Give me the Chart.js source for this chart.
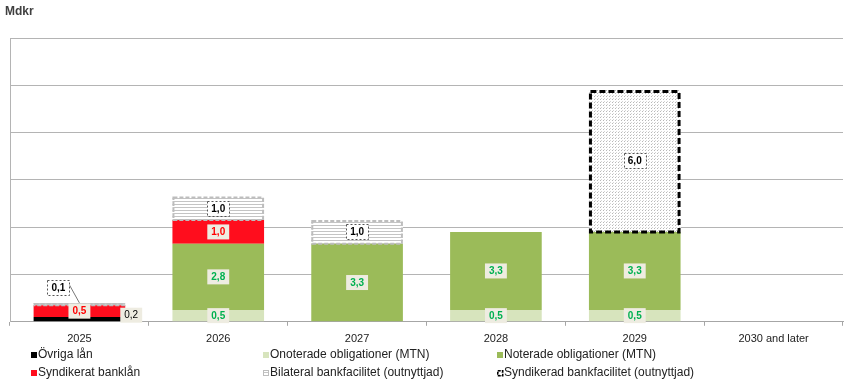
<!DOCTYPE html>
<html>
<head>
<meta charset="utf-8">
<script src="https://cdn.jsdelivr.net/npm/chart.js@4/dist/chart.umd.min.js"></script>
<style>
html, body { margin: 0; padding: 0; background: #fff; }
#wrap { position: relative; width: 850px; height: 389px; }
</style>
</head>
<body>
<div id="wrap"><canvas id="chart" width="850" height="389"></canvas></div>
<script>
// data (Mdkr) per maturity year
const years = ['2025', '2026', '2027', '2028', '2029', '2030 and later'];
const ovrigaLan = [0.2, 0, 0, 0, 0, 0];
const onoteradeMtn = [0, 0.5, 0, 0.5, 0.5, 0];
const noteradeMtn = [0, 2.8, 3.3, 3.3, 3.3, 0];
const syndBanklan = [0.5, 1.0, 0, 0, 0, 0];
const bilateralFac = [0.1, 1.0, 1.0, 0, 0, 0];
const syndFac = [0, 0, 0, 0, 6.0, 0];
const yMax = 12;
const yStep = 2;

const FONT = "'Liberation Sans', Arial, sans-serif";

// fill patterns for the unused facilities
function hatch() {
    const c = document.createElement('canvas');
    c.width = 6; c.height = 3;
    const g = c.getContext('2d');
    g.fillStyle = '#ffffff'; g.fillRect(0, 0, 6, 3);
    g.fillStyle = '#c4c4c4'; g.fillRect(0, 0, 6, 1);
    return g.createPattern(c, 'repeat');
}
function dots() {
    const c = document.createElement('canvas');
    c.width = 3; c.height = 3;
    const g = c.getContext('2d');
    g.fillStyle = '#ffffff'; g.fillRect(0, 0, 3, 3);
    g.fillStyle = '#b8b8b8'; g.fillRect(0, 0, 1, 1);
    g.fillStyle = '#d6d6d6'; g.fillRect(1, 2, 1, 1);
    return g.createPattern(c, 'repeat');
}
const hatchFill = hatch();
const dotFill = dots();

const fmt = v => v.toFixed(1).replace('.', ',');

// label style per dataset
const labelStyle = [
    { color: '#000', bg: '#eeece1', bold: false },
    { color: '#00b050', bg: '#eeece1', bold: true },
    { color: '#00b050', bg: '#eeece1', bold: true },
    { color: '#ff0000', bg: '#eeece1', bold: true },
    { color: '#000', bg: '#fff', bold: true, dashed: '#555' },
    { color: '#000', bg: '#fff', bold: true, dashed: '#555' }
];

function labelBox(ctx, text, x, y, st) {
    ctx.font = (st.bold ? 'bold ' : '') + '10px ' + FONT;
    const w = ctx.measureText(text).width + 8;
    const h = 15;
    ctx.fillStyle = st.bg;
    ctx.fillRect(x - w / 2, y - h / 2, w, h);
    if (st.dashed) {
        ctx.save();
        ctx.strokeStyle = st.dashed;
        ctx.lineWidth = 1;
        ctx.setLineDash([2, 2]);
        ctx.strokeRect(Math.round(x - w / 2) + 0.5, Math.round(y - h / 2) + 0.5, Math.round(w), h);
        ctx.restore();
    }
    ctx.fillStyle = st.color;
    ctx.textAlign = 'center';
    ctx.textBaseline = 'middle';
    ctx.fillText(text, x, y + 0.5);
}

const extras = {
    id: 'extras',
    afterDatasetsDraw(chart) {
        const ctx = chart.ctx;
        // dashed outlines of the facility bars
        [[4, '#bdbdbd', 2, [4, 2]], [5, '#000', 3, [6, 3]]].forEach(([di, col, lw, dash]) => {
            chart.getDatasetMeta(di).data.forEach((el, i) => {
                if (!chart.data.datasets[di].data[i]) return;
                const l = el.x - el.width / 2, t = el.y;
                ctx.save();
                ctx.strokeStyle = col;
                ctx.lineWidth = lw;
                ctx.setLineDash(dash);
                ctx.strokeRect(l + lw / 2, t + lw / 2, el.width - lw, el.base - t - lw / 2);
                ctx.restore();
            });
        });
        // value labels
        chart.data.datasets.forEach((ds, di) => {
            chart.getDatasetMeta(di).data.forEach((el, i) => {
                const v = ds.data[i];
                if (!v) return;
                let x = el.x, y = (el.y + el.base) / 2;
                if (di === 0) {
                    x = el.x + el.width / 2 + 6;
                    y = y - 4;
                } else if (di === 4 && v < 0.3) {
                    x = el.x - 21; y = el.y - 15;
                    ctx.save();
                    ctx.strokeStyle = '#777';
                    ctx.lineWidth = 1;
                    ctx.beginPath();
                    ctx.moveTo(x + 11, y - 3);
                    ctx.lineTo(el.x, el.y);
                    ctx.stroke();
                    ctx.restore();
                }
                labelBox(ctx, fmt(v), x, y, labelStyle[di]);
            });
        });
    },
    afterDraw(chart) {
        const ctx = chart.ctx;
        ctx.save();
        ctx.fillStyle = '#404040';
        ctx.font = 'bold 12px ' + FONT;
        ctx.textBaseline = 'top';
        ctx.textAlign = 'left';
        ctx.fillText('Mdkr', 5, 6);

        // legend, three columns x two rows
        const items = [
            [31, 355, 0], [263, 355, 1], [497, 355, 2],
            [31, 373, 3], [263, 373, 4], [497, 373, 5]
        ];
        ctx.font = '12px ' + FONT;
        ctx.textBaseline = 'middle';
        items.forEach(([x, y, di]) => {
            const ds = chart.data.datasets[di];
            ctx.fillStyle = ds.backgroundColor;
            ctx.fillRect(x, y - 3, 6, 6);
            if (di === 4) {
                ctx.strokeStyle = '#bdbdbd';
                ctx.lineWidth = 1;
                ctx.strokeRect(x + 0.5, y - 2.5, 5, 5);
            }
            if (di === 5) {
                ctx.strokeStyle = '#000';
                ctx.lineWidth = 1.5;
                ctx.setLineDash([3, 1]);
                ctx.strokeRect(x + 0.75, y - 2.25, 5, 5);
                ctx.setLineDash([]);
            }
            ctx.fillStyle = '#222';
            ctx.fillText(ds.label, x + 7, y);
        });
        ctx.restore();
    }
};

new Chart(document.getElementById('chart'), {
    type: 'bar',
    data: {
        labels: years,
        datasets: [
            { label: 'Övriga lån', data: ovrigaLan, backgroundColor: '#000000' },
            { label: 'Onoterade obligationer (MTN)', data: onoteradeMtn, backgroundColor: '#d7e4bd' },
            { label: 'Noterade obligationer (MTN)', data: noteradeMtn, backgroundColor: '#9bbb59' },
            { label: 'Syndikerat banklån', data: syndBanklan, backgroundColor: '#ff0d1d' },
            { label: 'Bilateral bankfacilitet (outnyttjad)', data: bilateralFac, backgroundColor: hatchFill },
            { label: 'Syndikerad bankfacilitet (outnyttjad)', data: syndFac, backgroundColor: dotFill }
        ]
    },
    options: {
        responsive: false,
        animation: false,
        datasets: { bar: { categoryPercentage: 1, barPercentage: 0.66 } },
        layout: { padding: { top: 38, left: 10, right: 7, bottom: 36 } },
        plugins: { legend: { display: false }, tooltip: { enabled: false } },
        scales: {
            x: {
                stacked: true,
                grid: { drawOnChartArea: false, offset: true, tickLength: 4, color: '#a6a6a6' },
                border: { color: '#a6a6a6' },
                ticks: { color: '#222', font: { family: FONT, size: 11 }, padding: 7 }
            },
            y: {
                stacked: true,
                min: 0,
                max: yMax,
                ticks: { display: false, stepSize: yStep },
                grid: { color: '#b4b4b4', drawTicks: false },
                border: { color: '#b4b4b4' }
            }
        }
    },
    plugins: [extras]
});
</script>
</body>
</html>
